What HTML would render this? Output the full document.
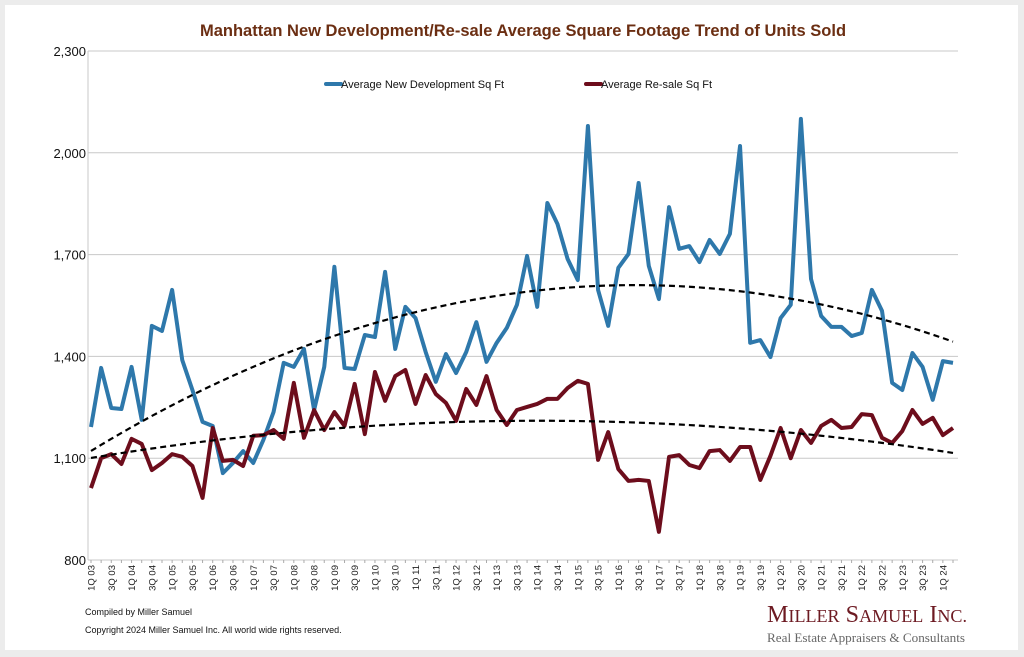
<!DOCTYPE html>
<html><head><meta charset="utf-8"><style>
body{margin:0;background:#ececec;width:1024px;height:657px;overflow:hidden;font-family:"Liberation Sans",sans-serif}
#card{position:absolute;left:5px;top:5px;width:1013px;height:645px;background:#fff}
svg{position:absolute;left:0;top:0}
</style></head><body>
<div id="card"></div>
<svg id="chart" width="1024" height="657"></svg>
<script>
const years=[];for(let y=3;y<=24;y++)years.push(y);
const newDev=[1192,1366,1248,1245,1369,1213,1490,1475,1596,1389,1301,1207,1195,1056,1086,1121,1086,1154,1236,1381,1369,1422,1242,1369,1664,1366,1363,1463,1457,1649,1422,1546,1513,1413,1325,1407,1351,1413,1501,1384,1440,1484,1552,1696,1546,1852,1790,1687,1625,2079,1596,1490,1661,1702,1911,1667,1569,1840,1717,1725,1678,1743,1702,1761,2020,1440,1448,1398,1513,1552,2100,1628,1519,1487,1487,1460,1469,1596,1534,1322,1301,1410,1369,1272,1386,1381];
const resale=[1012,1100,1112,1083,1157,1142,1065,1086,1112,1104,1077,983,1189,1092,1095,1077,1166,1168,1183,1157,1322,1160,1242,1183,1236,1195,1319,1171,1354,1269,1342,1360,1260,1345,1289,1263,1210,1304,1257,1342,1242,1198,1242,1251,1260,1275,1275,1307,1328,1319,1095,1177,1068,1033,1036,1033,883,1104,1109,1080,1071,1121,1124,1092,1133,1133,1036,1107,1189,1100,1183,1145,1195,1213,1189,1192,1230,1227,1160,1145,1180,1242,1201,1219,1168,1189];
const yTicks=[800,1100,1400,1700,2000,2300];
const NS='http://www.w3.org/2000/svg';
const svg=document.getElementById('chart');
const L=88,R=958,T=51,B=560,x0=91,x1=953;
const n=newDev.length;
const X=i=>x0+i*(x1-x0)/(n-1);
const Y=v=>B-(v-800)/1500*(B-T);
function mk(tag,attrs,parent){const e=document.createElementNS(NS,tag);for(const k in attrs)e.setAttribute(k,attrs[k]);(parent||svg).appendChild(e);return e;}
yTicks.forEach(v=>{
  const g=mk('line',{x1:L,x2:R,y1:Y(v),y2:Y(v),stroke:'#c8c8c8','stroke-width':1});
  
  
  const t=mk('text',{x:86,y:Y(v)+5,'text-anchor':'end','font-size':13,fill:'#111'});
  t.textContent=v.toLocaleString('en-US');
  
  
});
mk('line',{x1:L,x2:L,y1:T,y2:B,stroke:'#c8c8c8'});
for(let i=0;i<n;i++){
  mk('line',{x1:X(i),x2:X(i),y1:B,y2:B+3,stroke:'#aaa'});
  if(i%2===0){
    const q=(i%4===0?'1Q ':'3Q ')+String(years[Math.floor(i/4)]).padStart(2,'0');
    const t=mk('text',{x:0,y:0,'font-size':9.5,fill:'#222','text-anchor':'end',transform:`translate(${X(i)+3.5},${B+5}) rotate(-90)`});
    t.textContent=q;
    
    
  }
}
function quad(arr){let s=[0,0,0,0,0],t=[0,0,0];arr.forEach((v,i)=>{const x=i/(n-1);s[0]+=1;s[1]+=x;s[2]+=x*x;s[3]+=x*x*x;s[4]+=x*x*x*x;t[0]+=v;t[1]+=v*x;t[2]+=v*x*x;});
 const M=[[s[0],s[1],s[2],t[0]],[s[1],s[2],s[3],t[1]],[s[2],s[3],s[4],t[2]]];
 for(let c=0;c<3;c++){for(let r=c+1;r<3;r++){const f=M[r][c]/M[c][c];for(let k=c;k<4;k++)M[r][k]-=f*M[c][k];}}
 const b=[0,0,0];for(let r=2;r>=0;r--){let v=M[r][3];for(let k=r+1;k<3;k++)v-=M[r][k]*b[k];b[r]=v/M[r][r];}
 return i=>{const x=i/(n-1);return b[0]+b[1]*x+b[2]*x*x;};}
function line(arr,color,name){
  const p=mk('polyline',{points:arr.map((v,i)=>X(i)+','+Y(v)).join(' '),fill:'none',stroke:color,'stroke-width':4,'stroke-linejoin':'round'});
  
  
}
function trend(arr,name){
  const f=quad(arr);const pts=[];for(let i=0;i<n;i++)pts.push(X(i)+','+Y(f(i)));
  const p=mk('polyline',{points:pts.join(' '),fill:'none',stroke:'#000','stroke-width':2.2,'stroke-dasharray':'6,4'});
  
  
}
line(newDev,'#2e78ab','new-development-line');
line(resale,'#6d0d1c','resale-line');
trend(newDev,'new-development-trend');
trend(resale,'resale-trend');
</script>
<svg width="1024" height="657" style="pointer-events:none">
<text x="523" y="36" text-anchor="middle" font-size="16.5" font-weight="bold" fill="#6b2e12" font-family="Liberation Sans, sans-serif">Manhattan New Development/Re-sale Average Square Footage Trend of Units Sold</text>
<g font-size="11" font-family="Liberation Sans, sans-serif" fill="#111">
<line x1="326" x2="341" y1="84" y2="84" stroke="#2e78ab" stroke-width="4" stroke-linecap="round"/>
<text x="341" y="88">Average New Development Sq Ft</text>
<line x1="586" x2="601" y1="84" y2="84" stroke="#6d0d1c" stroke-width="4" stroke-linecap="round"/>
<text x="601" y="88">Average Re-sale Sq Ft</text>
</g>
<text x="85" y="615" font-size="9" fill="#111" font-family="Liberation Sans, sans-serif">Compiled by Miller Samuel</text>
<text x="85" y="633" font-size="9" fill="#111" font-family="Liberation Sans, sans-serif">Copyright 2024 Miller Samuel Inc.  All world wide rights reserved.</text>
<text x="767" y="622" font-size="24" fill="#6d1a22" font-family="Liberation Serif, serif" textLength="200" lengthAdjust="spacingAndGlyphs">M<tspan font-size="18">ILLER</tspan> S<tspan font-size="18">AMUEL</tspan> I<tspan font-size="18">NC.</tspan></text>
<text x="767" y="642" font-size="13" fill="#666" font-family="Liberation Serif, serif" textLength="198" lengthAdjust="spacingAndGlyphs">Real Estate Appraisers &amp; Consultants</text>
</svg>
</body></html>
